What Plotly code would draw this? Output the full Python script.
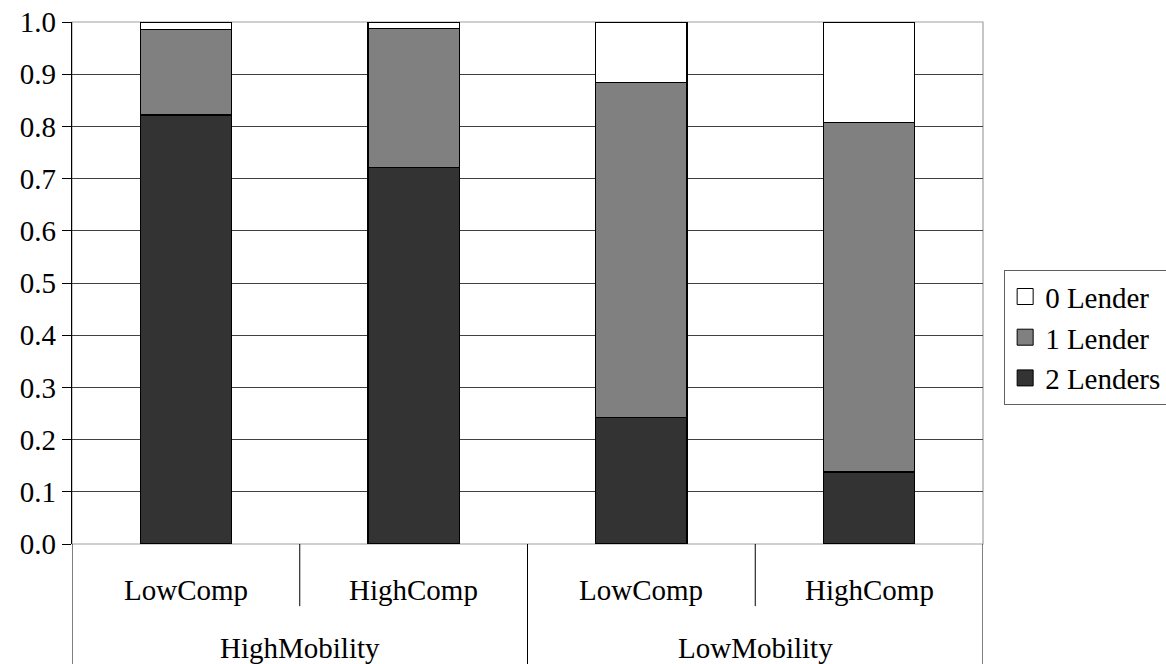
import plotly.graph_objects as go

categories = ["LowComp", "HighComp", "LowComp", "HighComp"]
groups = ["HighMobility", "LowMobility"]
two_lenders = [0.822, 0.722, 0.242, 0.138]
one_lender = [0.163, 0.265, 0.642, 0.670]
zero_lender = [0.015, 0.013, 0.116, 0.192]
ytick_vals = [0.0, 0.1, 0.2, 0.3, 0.4, 0.5, 0.6, 0.7, 0.8, 0.9, 1.0]

FONT = "Times New Roman, Liberation Serif, serif"
xs = list(range(len(categories)))

series = [("2 Lenders", two_lenders, "#333333"),
          ("1 Lender", one_lender, "#808080"),
          ("0 Lender", zero_lender, "#ffffff")]

fig = go.Figure()
for name, vals, col in series:
    fig.add_trace(go.Bar(x=xs, y=vals, name=name, width=0.4, showlegend=False,
                         marker=dict(color=col, line=dict(color="black", width=1.2))))
# legend entries with larger square keys
for name, vals, col in series:
    fig.add_trace(go.Scatter(x=[None], y=[None], name=name, mode="markers",
                             marker=dict(symbol="square", size=17, color=col,
                                         line=dict(color="black", width=1))))

shapes = []
shapes.append(dict(type="rect", xref="paper", yref="paper", x0=0, x1=1, y0=0, y1=1,
                   line=dict(color="#a0a0a0", width=1.2), layer="below"))
for xv, y1 in [(-0.5, -0.24), (0.5, -0.119), (1.5, -0.24), (2.5, -0.119), (3.5, -0.24)]:
    shapes.append(dict(type="line", xref="x", yref="paper", x0=xv, x1=xv, y0=0, y1=y1,
                       line=dict(color="black", width=1)))

annotations = []
for i, c in enumerate(categories):
    annotations.append(dict(x=xs[i], y=-0.088, xref="x", yref="paper", text=c, showarrow=False,
                            font=dict(family=FONT, size=29, color="black"), yanchor="middle"))
for j, g in enumerate(groups):
    annotations.append(dict(x=0.5 + 2 * j, y=-0.199, xref="x", yref="paper", text=g, showarrow=False,
                            font=dict(family=FONT, size=29, color="black"), yanchor="middle"))

fig.update_layout(
    barmode="stack",
    width=1166, height=664,
    margin=dict(l=72, r=183, t=22, b=120, autoexpand=False),
    paper_bgcolor="white", plot_bgcolor="white",
    font=dict(family=FONT, size=29, color="black"),
    xaxis=dict(range=[-0.5, 3.5], showticklabels=False, showgrid=False, zeroline=False,
               showline=False, ticks=""),
    yaxis=dict(range=[0, 1.0], tickvals=ytick_vals, tickformat=".1f", showgrid=True,
               gridcolor="#404040", gridwidth=1, zeroline=False, showline=True,
               linecolor="black", linewidth=1.2, ticks="outside", ticklen=9,
               tickcolor="black", ticklabeloverflow="allow",
               tickfont=dict(family=FONT, size=29, color="black")),
    legend=dict(x=1.023, y=0.525, xanchor="left", yanchor="top", traceorder="reversed",
                bordercolor="#606060", borderwidth=1.2, bgcolor="white",
                font=dict(family=FONT, size=29, color="black"), tracegroupgap=0,
                itemwidth=30, itemsizing="trace"),
    shapes=shapes,
    annotations=annotations,
    showlegend=True,
)

fig.write_html("out.html", post_script="document.body.style.margin='0px';",
               config={"displayModeBar": False})
